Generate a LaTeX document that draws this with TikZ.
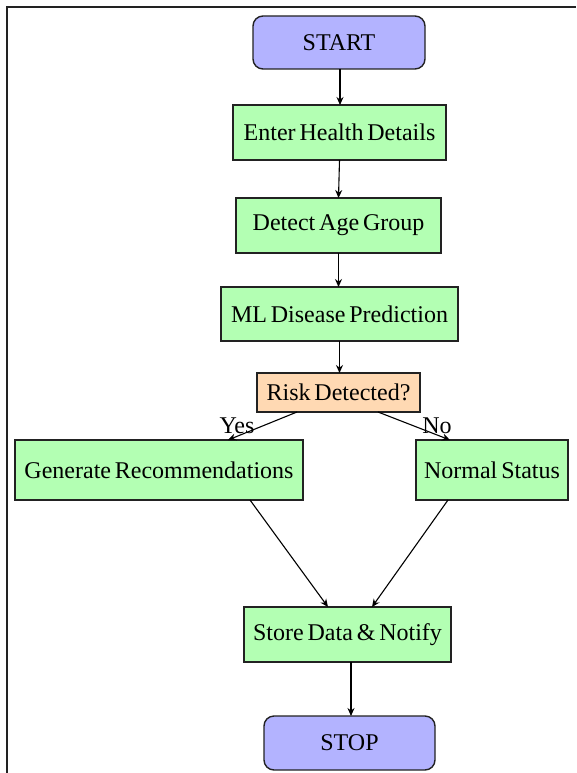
\documentclass[tikz,border=0pt]{standalone}
\usepackage{fontspec}
\setmainfont{Liberation Serif}
\usetikzlibrary{arrows.meta,calc}
\definecolor{boxgreen}{HTML}{B3FFB3}
\definecolor{boxpurple}{HTML}{B3B3FF}
\definecolor{boxorange}{HTML}{FFD9B3}
\definecolor{edge}{HTML}{222222}
\newcommand{\flowfont}{\fontsize{24}{28}\selectfont\spaceskip=0.16em\relax}
\tikzset{
  base/.style={draw=edge, line width=1.4pt, inner sep=0pt, outer sep=0pt, align=center,
    font=\flowfont},
  proc/.style={base, rectangle, fill=boxgreen},
  term/.style={base, rectangle, rounded corners=10pt, fill=boxpurple},
  dec/.style={base, rectangle, fill=boxorange},
  arr/.style={draw=black, line width=1.1pt, -{Stealth[length=8pt,width=7pt]}},
  lbl/.style={font=\flowfont, inner sep=0pt}
}
\begin{document}
\begin{tikzpicture}[x=1pt,y=-1pt]
\useasboundingbox (0,0) rectangle (576,773);
\draw[line width=1.6pt, edge] (7,773) -- (7,7) -- (576,7);
\node[term, minimum width=172pt, minimum height=53pt] (start) at (339,42.5) {START};
\node[proc, minimum width=213pt, minimum height=55pt] (enter) at (339.5,132.5) {Enter Health Details};
\node[proc, minimum width=205pt, minimum height=55pt] (age) at (338.5,225.5) {Detect Age Group};
\node[proc, minimum width=237pt, minimum height=54pt] (ml) at (339.5,314) {ML Disease Prediction};
\node[dec, minimum width=163pt, minimum height=39pt] (risk) at (338.5,392.5) {Risk Detected?};
\node[proc, minimum width=288pt, minimum height=60pt] (gen) at (159,470) {Generate Recommendations};
\node[proc, minimum width=152pt, minimum height=60pt] (norm) at (492,470) {Normal Status};
\node[proc, minimum width=207pt, minimum height=55pt] (store) at (347.5,634.5) {Store Data \& Notify};
\node[term, minimum width=171pt, minimum height=54pt] (stop) at (349.5,743) {STOP};
\node[lbl] (yes) at (237,426) {Yes};
\node[lbl] (no) at (437,426) {No};
\draw[arr] ($(start.south)+(1,0)$) -- ($(enter.north)+(0.5,0)$);
\draw[arr] (enter.south) -- (age.north);
\draw[arr] (age.south) -- (age.south |- ml.north);
\draw[arr] (ml.south) -- (ml.south |- risk.north);
\draw[arr] ($(risk.south)+(-41.5,0)$) -- ($(gen.north)+(69,0)$);
\draw[arr] ($(risk.south)+(39.5,0)$) -- ($(norm.north)+(-42,0)$);
\draw[arr] ($(gen.south)+(91,0)$) -- ($(store.north)+(-19.5,0)$);
\draw[arr] ($(norm.south)+(-44,0)$) -- ($(store.north)+(24.5,0)$);
\draw[arr] ($(store.south)+(3.5,0)$) -- ($(stop.north)+(1.5,0)$);
\end{tikzpicture}
\end{document}
